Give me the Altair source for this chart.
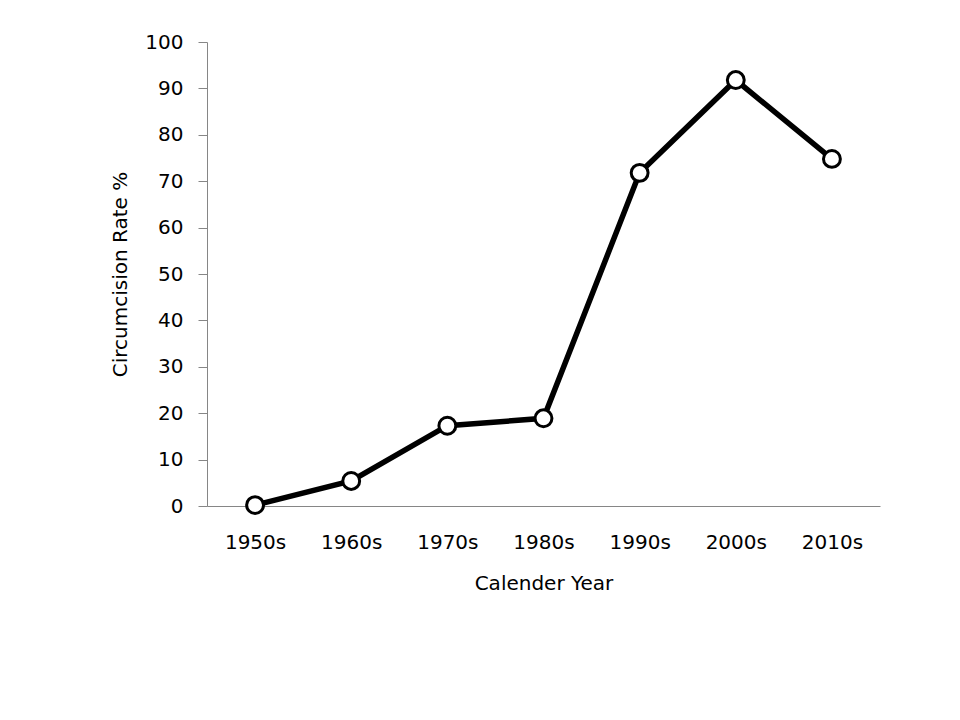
import altair as alt
import pandas as pd

decades = ["1950s", "1960s", "1970s", "1980s", "1990s", "2000s", "2010s"]
rates = [0.2, 5.4, 17.3, 18.9, 71.8, 91.8, 74.8]

df = pd.DataFrame({"decade": decades, "rate": rates})

FONT = "DejaVu Sans"
FS = 20

x = alt.X("decade:N", sort=decades, scale=alt.Scale(paddingInner=0, paddingOuter=0),
          axis=alt.Axis(title="Calender  Year", labelAngle=0, ticks=False, domainColor="#868686",
                        labelFontSize=FS, labelFont=FONT, labelColor="black", labelPadding=26,
                        titleFontSize=FS, titleFont=FONT, titleFontWeight="normal", titleColor="black",
                        titleY=77, titleBaseline="middle"))
y = alt.Y("rate:Q", scale=alt.Scale(domain=[0, 100], nice=False),
          axis=alt.Axis(title="Circumcision  Rate %", values=list(range(0, 101, 10)), grid=False,
                        tickSize=9, tickColor="#868686", domainColor="#868686",
                        labelFontSize=FS, labelFont=FONT, labelColor="black", labelPadding=15,
                        titleFontSize=FS, titleFont=FONT, titleFontWeight="normal", titleColor="black",
                        titleAngle=-90, titleX=-87, titleY=232, titleAlign="center", titleBaseline="middle"))

line = alt.Chart(df).mark_line(color="black", strokeWidth=5.5).encode(x=x, y=y)
pts = alt.Chart(df).mark_point(shape="circle", filled=True, fill="white", stroke="black",
                               strokeWidth=3, size=285, opacity=1).encode(x=x, y=y)

chart = (line + pts).properties(
    width=673, height=464,
    autosize=alt.AutoSizeParams(type="none"),
    padding={"left": 199, "top": 34, "right": 72, "bottom": 206},
).configure_view(stroke=None)

chart.save("out.html", embed_options={"renderer": "svg", "actions": False})
